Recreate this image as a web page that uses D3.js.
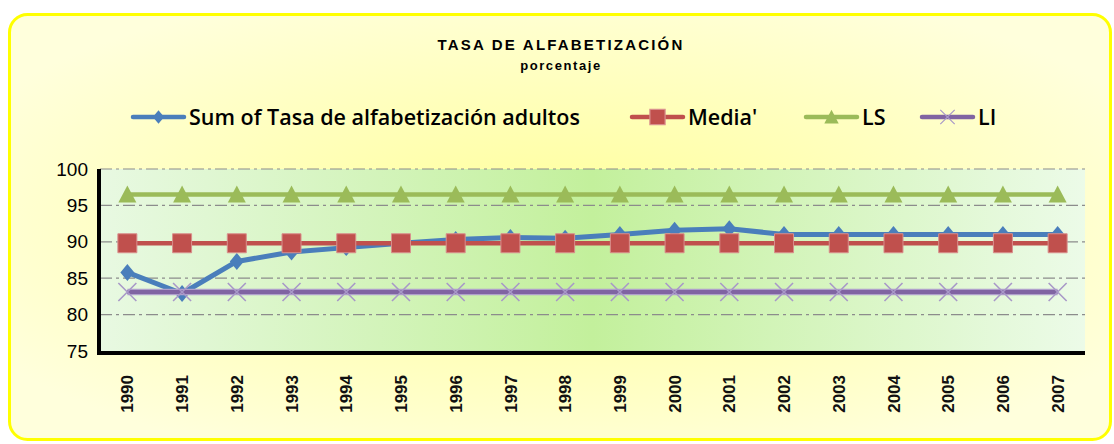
<!DOCTYPE html>
<html lang="es">
<head>
<meta charset="UTF-8">
<title>Tasa de alfabetización</title>
<script src="https://d3js.org/d3.v7.min.js"></script>
<style>
  body { margin: 0; background: #fff; }
</style>
</head>
<body>
<div id="chart"></div>
<script>
  // data
  const years = ["1990","1991","1992","1993","1994","1995","1996","1997","1998",
                 "1999","2000","2001","2002","2003","2004","2005","2006","2007"];
  const tasa  = [85.8, 82.9, 87.3, 88.6, 89.2, 89.8, 90.3, 90.6, 90.5,
                 91.0, 91.6, 91.8, 91.0, 91.0, 91.0, 91.0, 91.0, 91.0];
  const media = [89.8, 89.8, 89.8, 89.8, 89.8, 89.8, 89.8, 89.8, 89.8,
                 89.8, 89.8, 89.8, 89.8, 89.8, 89.8, 89.8, 89.8, 89.8];
  const ls    = [96.5, 96.5, 96.5, 96.5, 96.5, 96.5, 96.5, 96.5, 96.5,
                 96.5, 96.5, 96.5, 96.5, 96.5, 96.5, 96.5, 96.5, 96.5];
  const li    = [83.1, 83.1, 83.1, 83.1, 83.1, 83.1, 83.1, 83.1, 83.1,
                 83.1, 83.1, 83.1, 83.1, 83.1, 83.1, 83.1, 83.1, 83.1];
  const yTicks = [75, 80, 85, 90, 95, 100];

  const width = 1114, height = 444;
  const plot = {left: 100, right: 1085, top: 169, bottom: 351};

  const svg = d3.select("#chart").append("svg")
    .attr("width", width)
    .attr("height", height);

  const defs = svg.append("defs");

  const bg = defs.append("radialGradient").attr("id", "bg")
    .attr("cx", "50%").attr("cy", "50%").attr("r", "60%");
  bg.append("stop").attr("offset", "0%").attr("stop-color", "#ffff98");
  bg.append("stop").attr("offset", "100%").attr("stop-color", "#ffffdc");

  const pg = defs.append("linearGradient").attr("id", "pg")
    .attr("x1", "0%").attr("x2", "100%").attr("y1", "0%").attr("y2", "0%");
  pg.append("stop").attr("offset", "0%").attr("stop-color", "#e8f9e2");
  pg.append("stop").attr("offset", "50%").attr("stop-color", "#c3f09c");
  pg.append("stop").attr("offset", "100%").attr("stop-color", "#ecfbe8");

  // chart area
  svg.append("rect")
    .attr("x", 9.5).attr("y", 14.5)
    .attr("width", 1101).attr("height", 425)
    .attr("rx", 18)
    .attr("fill", "url(#bg)")
    .attr("stroke", "#ffff00")
    .attr("stroke-width", 3);

  // titles
  svg.append("text")
    .attr("x", 561).attr("y", 50)
    .attr("text-anchor", "middle")
    .style("font-family", "Liberation Sans, Arial, sans-serif")
    .style("font-weight", "bold")
    .style("font-size", "15px")
    .style("letter-spacing", "2.2px")
    .text("TASA DE ALFABETIZACIÓN");
  svg.append("text")
    .attr("x", 561).attr("y", 70)
    .attr("text-anchor", "middle")
    .style("font-family", "Liberation Sans, Arial, sans-serif")
    .style("font-weight", "bold")
    .style("font-size", "13px")
    .style("letter-spacing", "1.6px")
    .text("porcentaje");

  const x = d3.scaleBand().domain(years).range([plot.left, plot.right]);
  const y = d3.scaleLinear().domain([75, 100]).range([plot.bottom, plot.top]);
  const cx = d => x(d) + x.bandwidth() / 2;

  // plot area
  svg.append("rect")
    .attr("x", plot.left).attr("y", plot.top)
    .attr("width", plot.right - plot.left).attr("height", plot.bottom - plot.top)
    .attr("fill", "url(#pg)");

  svg.append("g")
    .selectAll("line")
    .data(yTicks.filter(d => d > 75))
    .join("line")
    .attr("x1", plot.left).attr("x2", plot.right)
    .attr("y1", d => y(d)).attr("y2", d => y(d))
    .attr("stroke", "#8c8c8c")
    .attr("stroke-width", 1.2)
    .attr("stroke-dasharray", "12,4,3,4");

  // axes
  const yAxis = svg.append("g")
    .attr("transform", "translate(" + plot.left + ",0)")
    .call(d3.axisLeft(y).tickValues(yTicks).tickSize(0).tickPadding(12));
  yAxis.select(".domain").remove();
  yAxis.selectAll("text")
    .style("font-family", "Liberation Sans, Arial, sans-serif")
    .style("font-size", "19px")
    .attr("fill", "#000");

  const xAxis = svg.append("g")
    .attr("transform", "translate(0," + plot.bottom + ")")
    .call(d3.axisBottom(x).tickSize(0));
  xAxis.select(".domain").remove();
  xAxis.selectAll("text")
    .attr("transform", "rotate(-90)")
    .attr("x", -24).attr("y", 0).attr("dy", "0.36em")
    .style("text-anchor", "end")
    .style("font-family", "Liberation Sans, Arial, sans-serif")
    .style("font-weight", "bold")
    .style("font-size", "17px")
    .attr("fill", "#111");

  // heavy frame left and bottom
  svg.append("path")
    .attr("d", "M" + (plot.left - 1) + "," + plot.top + "V" + (plot.bottom + 2) + "H" + plot.right)
    .attr("fill", "none")
    .attr("stroke", "#000")
    .attr("stroke-width", 4);

  // marker shapes
  const diamond = "M0,-8.5L7,0L0,8.5L-7,0Z";
  const square = "M-9.5,-9.5H9.5V9.5H-9.5Z";
  const triangle = "M0,-9L9,8H-9Z";
  const cross = "M-9,-9L9,9M9,-9L-9,9";

  const series = [
    {name: "Sum of Tasa de alfabetización adultos", values: tasa, color: "#4a7ebb", lw: 5, marker: diamond, mfill: "#4a7ebb", mstroke: "none"},
    {name: "Media'", values: media, color: "#c0504d", lw: 4.5, marker: square, mfill: "#c0504d", mstroke: "#d98f8d"},
    {name: "LS", values: ls, color: "#9bbb59", lw: 4.5, marker: triangle, mfill: "#9bbb59", mstroke: "none"},
    {name: "LI", values: li, color: "#8064a2", lw: 4, marker: cross, mfill: "none", mstroke: "#a898c8"}
  ];

  const line = d3.line().x((d, i) => cx(years[i])).y(d => y(d));

  series.forEach(s => {
    const g = svg.append("g");
    if (s.name === "LI") {
      g.append("path")
        .attr("d", line(s.values))
        .attr("fill", "none")
        .attr("stroke", "#b0a0cc")
        .attr("stroke-width", 6.5);
    }
    g.append("path")
      .attr("d", line(s.values))
      .attr("fill", "none")
      .attr("stroke", s.color)
      .attr("stroke-width", s.lw)
      .attr("stroke-linejoin", "round");
    g.selectAll(".m")
      .data(s.values)
      .join("path")
      .attr("class", "m")
      .attr("transform", (d, i) => "translate(" + cx(years[i]) + "," + y(d) + ")")
      .attr("d", s.marker)
      .attr("fill", s.mfill)
      .attr("stroke", s.mstroke)
      .attr("stroke-width", s.name === "LI" ? 1.6 : 1);
  });

  // legend
  const legendX = [133, 632, 806, 922];
  const legend = svg.append("g").attr("transform", "translate(0,117)");
  series.forEach((s, i) => {
    const g = legend.append("g").attr("transform", "translate(" + legendX[i] + ",0)");
    g.append("line")
      .attr("x1", 0).attr("x2", 51)
      .attr("stroke", s.color)
      .attr("stroke-width", 4.5)
      .attr("stroke-linecap", "round");
    g.append("path")
      .attr("transform", "translate(25.5,0) scale(0.8)")
      .attr("d", s.marker)
      .attr("fill", s.mfill)
      .attr("stroke", s.mstroke)
      .attr("stroke-width", 1.5);
    g.append("text")
      .attr("x", 56).attr("dy", "0.35em")
      .style("font-family", "Open Sans, sans-serif")
      .style("font-weight", "600")
      .style("font-size", "21.5px")
      .text(s.name);
  });
</script>
</body>
</html>
